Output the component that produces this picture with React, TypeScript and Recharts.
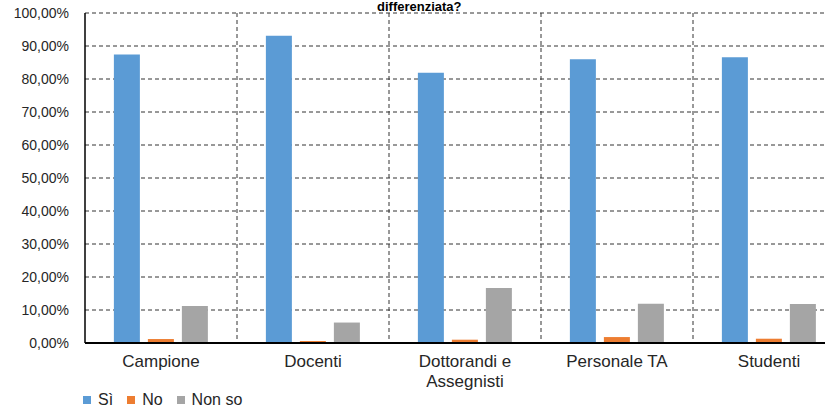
import React from 'react';
import { BarChart, Bar, XAxis, YAxis, CartesianGrid, Legend, Text } from 'recharts';

const categories = ['Campione', 'Docenti', 'Dottorandi e Assegnisti', 'Personale TA', 'Studenti'];
const si = [87.4, 93.1, 81.9, 86.0, 86.6];
const no = [1.2, 0.6, 1.0, 1.8, 1.3];
const nonSo = [11.2, 6.2, 16.7, 11.9, 11.8];
const yTicks = [0, 10, 20, 30, 40, 50, 60, 70, 80, 90, 100];

const series = [
  { key: 'si', name: 'Sì', color: '#5B9BD5' },
  { key: 'no', name: 'No', color: '#ED7D31' },
  { key: 'nonSo', name: 'Non so', color: '#A5A5A5' },
];

const data = categories.map((name, i) => ({ name, si: si[i], no: no[i], nonSo: nonSo[i] }));

const FONT = '"Liberation Sans", Arial, sans-serif';

const fmt = (v: number) => v.toFixed(2).replace('.', ',') + '%';

const CategoryTick = (props: any) => {
  const { x, y, payload } = props;
  return (
    <Text
      x={x}
      y={y + 4}
      width={125}
      textAnchor="middle"
      verticalAnchor="start"
      fontSize={17}
      fontFamily={FONT}
      fill="#262626"
      lineHeight={20}
    >
      {payload.value}
    </Text>
  );
};

// legend in series order (recharts would sort it by name)
const LegendContent = () => (
  <div style={{ display: 'flex', alignItems: 'center', fontFamily: FONT, fontSize: 16, color: '#262626' }}>
    {series.map((s) => (
      <span key={s.key} style={{ display: 'flex', alignItems: 'center', marginRight: 14 }}>
        <span style={{ width: 8, height: 8, background: s.color, display: 'inline-block', marginRight: 7 }} />
        {s.name}
      </span>
    ))}
  </div>
);

export default function App() {
  return (
    <div style={{ position: 'absolute', left: 0, top: 0, width: 825, height: 409, overflow: 'hidden', background: '#fff' }}>
      <div
        style={{
          position: 'absolute',
          left: 377,
          top: 0,
          fontFamily: FONT,
          fontWeight: 'bold',
          fontSize: 13,
          lineHeight: '13px',
          color: '#000',
          zIndex: 2,
        }}
      >
        differenziata?
      </div>
      <BarChart
        width={845}
        height={409}
        data={data}
        margin={{ top: 13, right: 0, left: 8, bottom: 0 }}
        barCategoryGap="19%"
        barGap={8}
      >
        <CartesianGrid
          stroke="#333"
          strokeDasharray="4 3"
          verticalCoordinatesGenerator={({ offset }: any) => {
            const band = offset.width / categories.length;
            return categories.map((_, i) => offset.left + band * (i + 1));
          }}
        />
        <XAxis
          dataKey="name"
          tick={<CategoryTick />}
          tickLine={false}
          axisLine={{ stroke: '#000', strokeWidth: 2 }}
          height={44}
          interval={0}
        />
        <YAxis
          domain={[0, 100]}
          ticks={yTicks}
          tickFormatter={fmt}
          width={77}
          tickLine={false}
          tickSize={0}
          tickMargin={16}
          axisLine={{ stroke: '#000', strokeWidth: 1.5 }}
          tick={{ fontSize: 14, fontFamily: FONT, fill: '#262626' }}
          interval={0}
        />
        <Legend
          verticalAlign="bottom"
          align="left"
          content={<LegendContent />}
          wrapperStyle={{ left: 83, top: 391, bottom: 'auto', height: 22 }}
        />
        {series.map((s) => (
          <Bar key={s.key} dataKey={s.key} name={s.name} fill={s.color} isAnimationActive={false} />
        ))}
      </BarChart>
    </div>
  );
}
